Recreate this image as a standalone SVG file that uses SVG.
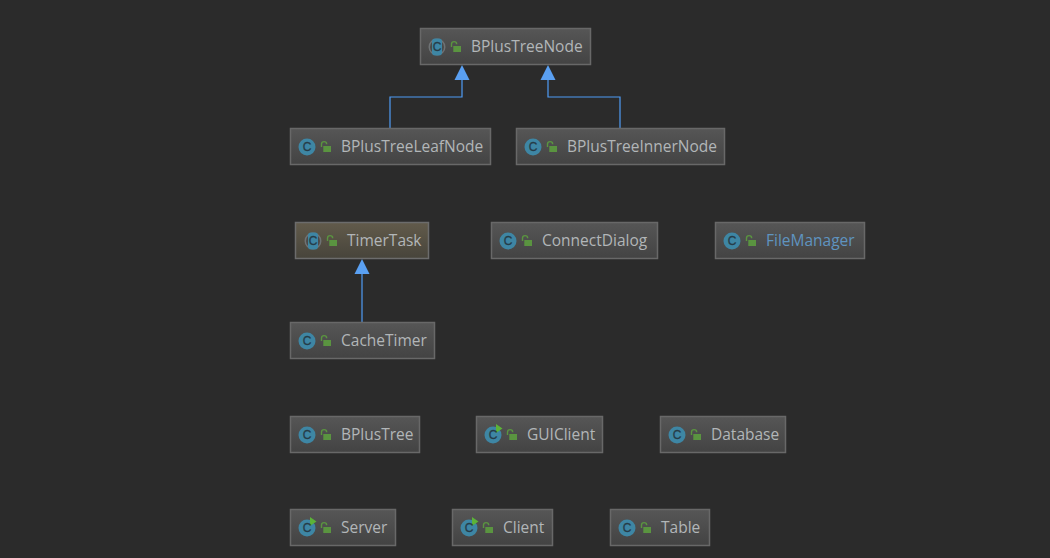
<svg xmlns="http://www.w3.org/2000/svg" xmlns:xlink="http://www.w3.org/1999/xlink" width="1050" height="558" viewBox="0 0 1050 558">
<style>
.box{fill:url(#g);stroke:#686868;stroke-width:1.5}
.boxT{fill:url(#gt);stroke:#6c6c6c;stroke-width:1.5}
.lbl{font-family:"Open Sans","Noto Sans",sans-serif;font-size:15.500px;fill:#b2b6b8}
.blue{fill:#5f94c0}
.ic{font-family:"Liberation Sans",sans-serif;font-size:12px;fill:#263c48;stroke:#263c48;stroke-width:.3;text-anchor:middle}
.conn{fill:none;stroke:#4f9cf5;stroke-width:1.200}
.head{fill:#5aa0f2;stroke:none}
</style>
<defs>
<linearGradient id="g" x1="0" y1="0" x2="0" y2="1"><stop offset="0" stop-color="#565656"/><stop offset="1" stop-color="#434343"/></linearGradient>
<linearGradient id="gt" x1="0" y1="0" x2="0" y2="1"><stop offset="0" stop-color="#625b4b"/><stop offset="1" stop-color="#47443b"/></linearGradient>
<g id="lock"><path d="M-4.500 0V-2.800A2.600 2.600 0 0 1 0.700 -2.800" fill="none" stroke="#5a9440" stroke-width="1.400"/><rect x="-2.700" y="-1" width="7.700" height="6" fill="#5a9440"/></g>
<circle id="cls" r="8.500" fill="#3e86a4"/>
<g id="abs"><circle r="8.500" fill="#6f7375"/><circle r="7" fill="#4a4a4a"/><rect x="-5" y="-8.500" width="10" height="17" rx="3" fill="#3e86a4"/></g>
<g id="run"><circle r="8.500" fill="#3e86a4"/><path d="M3 -11L9.500 -6.500L3 -2Z" fill="#5cb338"/></g>
</defs>
<rect width="1050" height="558" fill="#2b2b2b"/>
<g id="connectors">
<path class="conn" d="M390 128V97H462V79"/><path class="head" d="M462 65L469.500 80H454.500Z"/>
<path class="conn" d="M620 128V97H548V79"/><path class="head" d="M548 65L555.500 80H540.500Z"/>
<path class="conn" d="M362 322V273"/><path class="head" d="M362 259L369.500 274H354.500Z"/>
</g>
<g id="BPlusTreeNode"><rect class="box" x="420.500" y="28.500" width="170" height="36"/><use href="#abs" x="437" y="47"/><text class="ic" x="437" y="51">C</text><use href="#lock" x="456" y="47"/><text class="lbl" x="471" y="52">BPlusTreeNode</text></g>
<g id="BPlusTreeLeafNode"><rect class="box" x="290.500" y="128.500" width="200" height="36"/><use href="#cls" x="307" y="147"/><text class="ic" x="307" y="151">C</text><use href="#lock" x="326" y="147"/><text class="lbl" x="341" y="152">BPlusTreeLeafNode</text></g>
<g id="BPlusTreeInnerNode"><rect class="box" x="516.500" y="128.500" width="208" height="36"/><use href="#cls" x="533" y="147"/><text class="ic" x="533" y="151">C</text><use href="#lock" x="552" y="147"/><text class="lbl" x="567" y="152">BPlusTreeInnerNode</text></g>
<g id="TimerTask"><rect class="boxT" x="295.500" y="222.500" width="133" height="36"/><use href="#abs" x="313" y="241"/><text class="ic" x="313" y="245">C</text><use href="#lock" x="332" y="241"/><text class="lbl" x="347" y="246">TimerTask</text></g>
<g id="ConnectDialog"><rect class="box" x="491.500" y="222.500" width="166" height="36"/><use href="#cls" x="508" y="241"/><text class="ic" x="508" y="245">C</text><use href="#lock" x="527" y="241"/><text class="lbl" x="542" y="246">ConnectDialog</text></g>
<g id="FileManager"><rect class="box" x="715.500" y="222.500" width="149" height="36"/><use href="#cls" x="732" y="241"/><text class="ic" x="732" y="245">C</text><use href="#lock" x="751" y="241"/><text class="lbl blue" x="766" y="246">FileManager</text></g>
<g id="CacheTimer"><rect class="box" x="290.500" y="322.500" width="144" height="36"/><use href="#cls" x="307" y="341"/><text class="ic" x="307" y="345">C</text><use href="#lock" x="326" y="341"/><text class="lbl" x="341" y="346">CacheTimer</text></g>
<g id="BPlusTree"><rect class="box" x="290.500" y="416.500" width="129" height="36"/><use href="#cls" x="307" y="435"/><text class="ic" x="307" y="439">C</text><use href="#lock" x="326" y="435"/><text class="lbl" x="341" y="440">BPlusTree</text></g>
<g id="GUIClient"><rect class="box" x="476.500" y="416.500" width="126" height="36"/><use href="#run" x="493" y="435"/><text class="ic" x="493" y="439">C</text><use href="#lock" x="512" y="435"/><text class="lbl" x="527" y="440">GUIClient</text></g>
<g id="Database"><rect class="box" x="660.500" y="416.500" width="125" height="36"/><use href="#cls" x="677" y="435"/><text class="ic" x="677" y="439">C</text><use href="#lock" x="696" y="435"/><text class="lbl" x="711" y="440">Database</text></g>
<g id="Server"><rect class="box" x="290.500" y="509.500" width="105" height="36"/><use href="#run" x="307" y="528"/><text class="ic" x="307" y="532">C</text><use href="#lock" x="326" y="528"/><text class="lbl" x="341" y="533">Server</text></g>
<g id="Client"><rect class="box" x="452.500" y="509.500" width="100" height="36"/><use href="#run" x="469" y="528"/><text class="ic" x="469" y="532">C</text><use href="#lock" x="488" y="528"/><text class="lbl" x="503" y="533">Client</text></g>
<g id="Table"><rect class="box" x="610.500" y="509.500" width="99" height="36"/><use href="#cls" x="627" y="528"/><text class="ic" x="627" y="532">C</text><use href="#lock" x="646" y="528"/><text class="lbl" x="661" y="533">Table</text></g>
</svg>
